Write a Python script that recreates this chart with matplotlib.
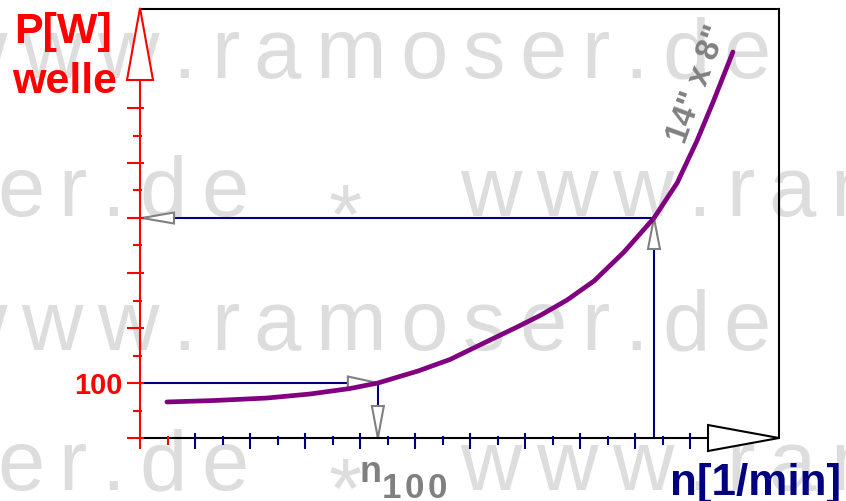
import matplotlib
matplotlib.use("Agg")
import matplotlib.pyplot as plt
from matplotlib.patches import Polygon

# ---------------- data ----------------
n_curve = [0.98, 2.73, 4.62, 6.18, 7.64, 8.65, 10.11, 11.27, 12.58, 13.64,
           14.55, 15.53, 16.51, 17.6, 18.69, 19.53, 20.25, 20.84, 21.56]
p_curve = [65.5, 68.2, 72.7, 80, 90, 100, 121.8, 142.7, 174.5, 200,
           222.7, 250.9, 285.5, 338.2, 400, 463.6, 540, 610.9, 701.8]
n_100 = 8.65          # n at P = 100 W
n_400 = 18.69         # n at P = 400 W
p_low, p_high = 100, 400
x_major = [2, 4, 6, 8, 10, 12, 14, 16, 18, 20]
x_minor = [3, 5, 7, 9, 11, 13, 15, 17, 19]
x_red = [1]
y_major = [0, 100, 200, 300, 400, 500, 600]
y_minor = [50, 150, 250, 350, 450, 550]
y_label_value = 100
y_label_text = "100"
y_title = ["P[W]", "welle"]
x_title = "n[1/min]"
curve_label = '14" x 8"'
n_label = "n"
n_sub = "100"
watermark = "www.ramoser.de"

# ---------------- styles ----------------
W, H = 846, 501
RED = "#ff0000"
NAVY = "#000080"
PURPLE = "#800080"
GRAY = "#808080"
WM = "#dddddd"
LW = 1.5
PT = 0.72  # points per pixel at dpi 100

fig = plt.figure(figsize=(W / 100, H / 100), dpi=100)
fig.patch.set_facecolor("white")

# background (watermark) axes in pixel coordinates
bg = fig.add_axes([0, 0, 1, 1], zorder=0)
bg.set_xlim(0, W)
bg.set_ylim(H, 0)
bg.axis("off")

ADV = {'w': 0.722, '.': 0.278, 'r': 0.333, 'a': 0.556, 'm': 0.833, 'o': 0.556,
       's': 0.5, 'e': 0.556, 'd': 0.556, ' ': 0.278, '*': 0.389,
       '1': 0.556, '0': 0.556}


def spaced(axis, x0, y, s, size_px, track, **kw):
    x = x0
    for ch in s:
        adv = ADV[ch] * size_px
        axis.text(x + adv / 2, y, ch, fontsize=size_px * PT, ha="center",
                  va="baseline", **kw)
        x += adv + track


WM_SIZE = 85
WM_TRACK = 14.5
wm_kw = dict(color=WM, family="Liberation Sans")
for base in (78, 350):
    spaced(bg, -55, base, watermark, WM_SIZE, WM_TRACK, **wm_kw)
for base, ast in ((216, 244), (490, 518)):
    spaced(bg, -577.5, base, watermark, WM_SIZE, WM_TRACK, **wm_kw)
    bg.text(345, ast, "*", fontsize=WM_SIZE * PT, ha="center", va="baseline", **wm_kw)
    spaced(bg, 460, base, watermark, WM_SIZE, WM_TRACK, **wm_kw)

# ---------------- main axes ----------------
PXN = 27.5   # pixels per n unit
PXP = 0.55   # pixels per W
ax = fig.add_axes([140 / W, (H - 438) / H, 639 / W, 429 / H], zorder=1)
ax.set_xlim(0, 639 / PXN)
ax.set_ylim(0, 429 / PXP)
ax.patch.set_alpha(0)
for side in ("left", "bottom"):
    ax.spines[side].set_visible(False)
for side in ("top", "right"):
    ax.spines[side].set_color("black")
    ax.spines[side].set_linewidth(LW)
ax.set_xticks([])
ax.set_yticks([])

xmax = 639 / PXN

# x axis (black) with arrow
arrow_base = (708 - 140) / PXN
ax.plot([0, arrow_base], [0, 0], color="black", lw=LW, clip_on=False, zorder=3,
        solid_capstyle="butt")
ax.add_patch(Polygon([(arrow_base, 13 / PXP), (arrow_base, -13 / PXP), (xmax, 0)],
                     closed=True, facecolor="white", edgecolor="black", lw=LW,
                     clip_on=False, zorder=3))

# x ticks
ax.vlines(x_major, -11 / PXP, 5 / PXP, color=NAVY, lw=LW, clip_on=False, zorder=3)
ax.vlines(x_minor, -7 / PXP, 2 / PXP, color=NAVY, lw=LW, clip_on=False, zorder=3)
ax.vlines(x_red, -7 / PXP, 2 / PXP, color=RED, lw=LW, clip_on=False, zorder=3)

# y axis (red) with arrow
y_arrow_base = (438 - 80) / PXP
ax.plot([0, 0], [-11 / PXP, y_arrow_base], color=RED, lw=LW, clip_on=False,
        zorder=4, solid_capstyle="butt")
ax.add_patch(Polygon([(-13 / PXN, y_arrow_base), (13 / PXN, y_arrow_base),
                      (0, (438 - 8) / PXP)], closed=True, facecolor="white",
                     edgecolor=RED, lw=LW, clip_on=False, zorder=4))
ax.hlines(y_major, -13 / PXN, 4 / PXN, color=RED, lw=LW, clip_on=False, zorder=4)
ax.hlines(y_minor, -7 / PXN, 2 / PXN, color=RED, lw=LW, clip_on=False, zorder=4)

# guide lines
ax.plot([0, n_100, n_100], [p_low, p_low, 0], color=NAVY, lw=LW, zorder=2,
        clip_on=False)
ax.plot([0, n_400, n_400], [p_high, p_high, 0], color=NAVY, lw=LW, zorder=2,
        clip_on=False)


def head(tip, direction, length_px, half_px):
    tx, ty = tip
    if direction == "right":
        pts = [(tx, ty), (tx - length_px / PXN, ty + half_px / PXP),
               (tx - length_px / PXN, ty - half_px / PXP)]
    elif direction == "left":
        pts = [(tx, ty), (tx + length_px / PXN, ty + half_px / PXP),
               (tx + length_px / PXN, ty - half_px / PXP)]
    elif direction == "down":
        pts = [(tx, ty), (tx - half_px / PXN, ty + length_px / PXP),
               (tx + half_px / PXN, ty + length_px / PXP)]
    else:
        pts = [(tx, ty), (tx - half_px / PXN, ty - length_px / PXP),
               (tx + half_px / PXN, ty - length_px / PXP)]
    ax.add_patch(Polygon(pts, closed=True, facecolor="white", edgecolor=GRAY,
                         lw=LW, zorder=2.5, clip_on=False, joinstyle="miter"))


head((n_100, p_low), "right", 30, 6.5)
head((n_100, 0), "down", 32, 6)
head((2 / PXN, p_high), "left", 32, 5.5)
head((n_400, p_high), "up", 31, 6)

# curve
ax.plot(n_curve, p_curve, color=PURPLE, lw=3.4, solid_capstyle="round",
        solid_joinstyle="round", zorder=5, clip_on=False)

# ---------------- labels (pixel overlay) ----------------
top = fig.add_axes([0, 0, 1, 1], zorder=3)
top.set_xlim(0, W)
top.set_ylim(H, 0)
top.axis("off")
top.patch.set_alpha(0)

bold = dict(family="Liberation Sans", fontweight="bold")
top.text(63, 43, y_title[0], color=RED, fontsize=43 * PT, ha="center",
         va="baseline", **bold)
top.text(65, 93, y_title[1], color=RED, fontsize=43 * PT, ha="center",
         va="baseline", **bold)
y100_px = 438 - y_label_value * PXP
top.text(123, y100_px + 11.5, y_label_text, color=RED, fontsize=29 * PT,
         ha="right", va="baseline", **bold)
top.text(841, 495, x_title, color=NAVY, fontsize=44 * PT, ha="right",
         va="baseline", **bold)
top.text(371, 482, n_label, color=GRAY, fontsize=36 * PT, ha="center",
         va="baseline", **bold)
x = 381
for ch in n_sub:
    top.text(x + 10, 498, ch, color=GRAY, fontsize=35 * PT, ha="center",
             va="baseline", **bold)
    x += 23
top.text(698, 84, curve_label, color=GRAY, fontsize=33 * PT, ha="center",
         va="center", rotation=70, rotation_mode="anchor", **bold)

fig.savefig("out.png", dpi=100)
